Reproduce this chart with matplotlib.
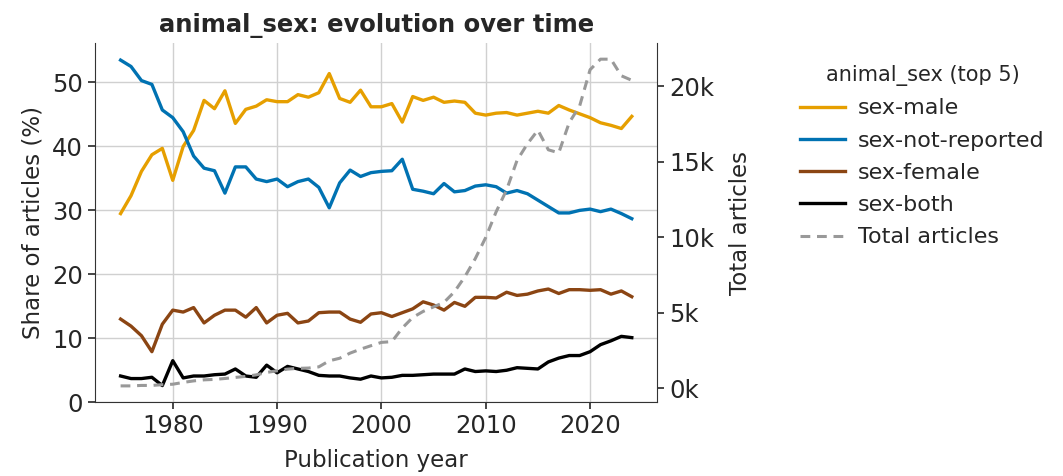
import matplotlib
matplotlib.use("Agg")
import matplotlib.pyplot as plt
from matplotlib.ticker import FuncFormatter

years = list(range(1975, 2025))

sex_male = [29.5, 32.3, 36.1, 38.7, 39.7, 34.7, 40.0, 42.5, 47.2, 45.9,
            48.7, 43.6, 45.8, 46.3, 47.3, 47.0, 47.0, 48.1, 47.7, 48.4,
            51.4, 47.5, 46.9, 48.8, 46.2, 46.2, 46.7, 43.8, 47.8, 47.2,
            47.7, 46.9, 47.1, 46.9, 45.2, 44.9, 45.2, 45.3, 44.9, 45.2,
            45.5, 45.2, 46.4, 45.7, 45.1, 44.5, 43.7, 43.3, 42.8, 44.7]

sex_not_reported = [53.5, 52.5, 50.3, 49.7, 45.7, 44.5, 42.3, 38.5, 36.6, 36.2,
                    32.7, 36.8, 36.8, 34.9, 34.5, 34.9, 33.7, 34.5, 34.9, 33.6,
                    30.4, 34.3, 36.3, 35.3, 35.9, 36.1, 36.2, 38.0, 33.3, 33.0,
                    32.6, 34.2, 32.9, 33.1, 33.8, 34.0, 33.7, 32.7, 33.1, 32.6,
                    31.6, 30.6, 29.6, 29.6, 30.0, 30.2, 29.8, 30.2, 29.5, 28.7]

sex_female = [13.0, 11.9, 10.4, 7.9, 12.2, 14.4, 14.1, 14.8, 12.4, 13.6,
              14.4, 14.4, 13.3, 14.8, 12.4, 13.6, 13.9, 12.4, 12.7, 14.0,
              14.1, 14.1, 13.0, 12.5, 13.8, 14.0, 13.4, 14.0, 14.6, 15.7,
              15.2, 14.4, 15.6, 15.0, 16.4, 16.4, 16.3, 17.2, 16.7, 16.9,
              17.4, 17.7, 17.0, 17.6, 17.6, 17.5, 17.6, 16.9, 17.4, 16.5]

sex_both = [4.1, 3.7, 3.7, 3.9, 2.6, 6.5, 3.8, 4.1, 4.1, 4.3,
            4.4, 5.2, 4.1, 3.9, 5.8, 4.6, 5.6, 5.2, 4.8, 4.2,
            4.1, 4.1, 3.8, 3.6, 4.1, 3.8, 3.9, 4.2, 4.2, 4.3,
            4.4, 4.4, 4.4, 5.2, 4.8, 4.9, 4.8, 5.0, 5.4, 5.3,
            5.2, 6.3, 6.9, 7.3, 7.3, 7.9, 9.0, 9.6, 10.3, 10.1]

total_articles = [170, 170, 200, 200, 250, 280, 400, 500, 570, 600,
                  660, 730, 800, 900, 1060, 1170, 1280, 1330, 1350, 1430,
                  1830, 2000, 2340, 2600, 2830, 3050, 3100, 4000, 4700, 5100,
                  5400, 5700, 6400, 7400, 8600, 10000, 11700, 13150, 15100, 16200,
                  17100, 15800, 15600, 17600, 18700, 21100, 21800, 21800, 20700, 20400]

series = [
    ("sex-male", sex_male, "#E69F00"),
    ("sex-not-reported", sex_not_reported, "#0072B2"),
    ("sex-female", sex_female, "#8B4513"),
    ("sex-both", sex_both, "#000000"),
]

text_color = "#262626"
plt.rcParams["font.family"] = ["DejaVu Sans"]
plt.rcParams["text.color"] = text_color
plt.rcParams["axes.labelcolor"] = text_color
plt.rcParams["xtick.color"] = text_color
plt.rcParams["ytick.color"] = text_color

tick_fs = 17.5
label_fs = 16.5

fig = plt.figure(figsize=(10.63, 4.76), dpi=100)
ax = fig.add_axes([0.0894, 0.155, 0.529, 0.755])

for name, vals, col in series:
    ax.plot(years, vals, color=col, lw=2.4, label=name)

ax.set_ylim(0, 56.2)
ax.set_yticks([0, 10, 20, 30, 40, 50])
ax.set_xticks([1980, 1990, 2000, 2010, 2020])
ax.grid(True, color="#d0d0d0", lw=1.0)
ax.set_axisbelow(True)
ax.tick_params(labelsize=tick_fs, length=5, width=1.2)
ax.set_xlabel("Publication year", fontsize=label_fs, labelpad=8)
ax.set_ylabel("Share of articles (%)", fontsize=label_fs, labelpad=6)
ax.set_title("animal_sex: evolution over time", fontsize=17.5, fontweight="bold", pad=8)
for side in ("top", "right"):
    ax.spines[side].set_visible(False)
for side in ("left", "bottom"):
    ax.spines[side].set_color("#333333")

ax2 = ax.twinx()
ax2.plot(years, total_articles, color="#999999", lw=2.2, ls=(0, (3.2, 2.2)),
         label="Total articles")
ax2.yaxis.set_major_formatter(FuncFormatter(lambda v, p: f"{int(round(v / 1000))}k"))
ax2.set_yticks([0, 5000, 10000, 15000, 20000])
ax2.tick_params(labelsize=tick_fs, length=5, width=1.2)
ax2.set_ylabel("Total articles", fontsize=label_fs, labelpad=11)
ax2.grid(False)
for side in ("top", "left", "bottom"):
    ax2.spines[side].set_visible(False)
ax2.spines["right"].set_color("#333333")

h1, l1 = ax.get_legend_handles_labels()
h2, l2 = ax2.get_legend_handles_labels()
leg = fig.legend(h1 + h2, l1 + l2, title="animal_sex (top 5)",
                 loc="upper left", bbox_to_anchor=(0.734, 0.905),
                 frameon=False, fontsize=16, title_fontsize=15,
                 handlelength=2.0, handletextpad=0.6, labelspacing=0.55)

fig.savefig("out.png", dpi=100)
